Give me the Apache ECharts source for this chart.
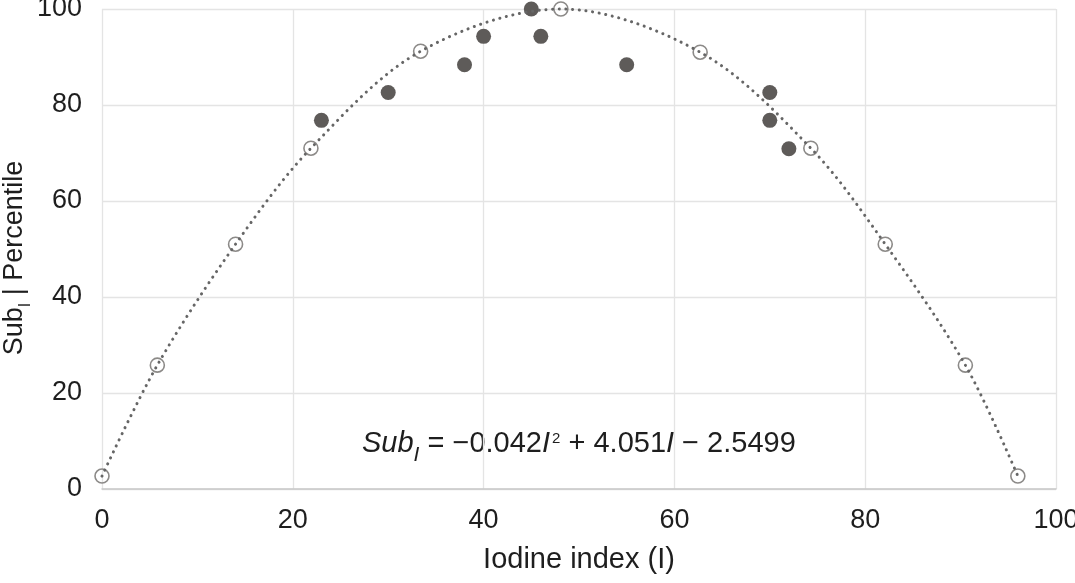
<!DOCTYPE html>
<html>
<head>
<meta charset="utf-8">
<script src="https://cdn.jsdelivr.net/npm/echarts@6/dist/echarts.min.js"></script>
<style>
  html, body { margin: 0; padding: 0; background: #fff; }
  #chart { width: 1075px; height: 583px; }
</style>
</head>
<body>
<div id="chart"></div>
<script>
// points on the fitted curve (open circles)
var fitX = [0, 5.8, 14, 21.9, 33.4, 48.1, 62.7, 74.3, 82.1, 90.5, 96];
var fitY = [2.7, 25.8, 51, 71, 91.2, 100, 91, 71, 51, 25.8, 2.7];
// measured samples (filled circles)
var obsX = [23, 30, 38, 40, 45, 46, 55, 70, 70, 72];
var obsY = [76.8, 82.6, 88.4, 94.3, 100, 94.3, 88.4, 82.6, 76.8, 70.9];

function pairs(xs, ys) {
    return xs.map(function (x, i) { return [x, ys[i]]; });
}

var chartDom = document.getElementById('chart');
var myChart = echarts.init(chartDom);

var font = 'Liberation Sans, Arial, Helvetica, sans-serif';

var option = {
    animation: false,
    grid: { left: 102, right: 19, top: 9, bottom: 94, containLabel: false, outerBoundsMode: 'none' },
    xAxis: {
        type: 'value',
        min: 0, max: 100, interval: 20,
        name: 'Iodine index (I)',
        nameLocation: 'middle',
        nameGap: 56,
        nameMoveOverlap: false,
        nameTextStyle: { fontFamily: font, fontSize: 29, color: '#1e1e1e' },
        axisLine: { show: true, lineStyle: { color: '#c8c8c8', width: 1.5 } },
        axisTick: { show: false },
        axisLabel: { fontFamily: font, fontSize: 27, color: '#1e1e1e', margin: 18 },
        splitLine: { show: true, lineStyle: { color: '#e4e4e4', width: 1.3 } }
    },
    yAxis: {
        type: 'value',
        min: 0, max: 100, interval: 20,
        name: '{m|Sub}{s|I}{m| | Percentile}',
        nameLocation: 'middle',
        nameGap: 68,
        nameMoveOverlap: false,
        nameTextStyle: {
            padding: [0, 18, 0, 0],
            rich: {
                m: { fontFamily: font, fontSize: 27, color: '#1e1e1e', lineHeight: 38 },
                s: { fontFamily: font, fontSize: 16, color: '#1e1e1e', lineHeight: 16, verticalAlign: 'bottom' }
            }
        },
        axisLine: { show: false },
        axisTick: { show: false },
        axisLabel: { fontFamily: font, fontSize: 27, color: '#1e1e1e', margin: 20 },
        splitLine: { show: true, lineStyle: { color: '#e4e4e4', width: 1.3 } }
    },
    graphic: [{
        type: 'text',
        x: 362,
        y: 444,
        style: {
            text: '{i|Sub}{sub|I}{n| = −0.042}{i|I}{sup|2}{n| + 4.051}{i|I}{n| − 2.5499}',
            verticalAlign: 'middle',
            rich: {
                n: { fontFamily: font, fontSize: 29, fill: '#1e1e1e', lineHeight: 44 },
                i: { fontFamily: font, fontSize: 29, fontStyle: 'italic', fill: '#1e1e1e', lineHeight: 44 },
                sub: { fontFamily: font, fontSize: 21, fontStyle: 'italic', fill: '#1e1e1e', lineHeight: 21, verticalAlign: 'bottom' },
                sup: { fontFamily: font, fontSize: 15, fill: '#1e1e1e', lineHeight: 15, verticalAlign: 'top', padding: [9, 0, 0, 2] }
            }
        }
    }],
    series: [
        {
            name: 'observed',
            type: 'scatter',
            data: pairs(obsX, obsY),
            symbol: 'circle',
            symbolSize: 15,
            itemStyle: { color: '#5e5b59', opacity: 1 },
            z: 2
        },
        {
            name: 'fit points',
            type: 'scatter',
            data: pairs(fitX, fitY),
            symbol: 'circle',
            symbolSize: 14,
            itemStyle: { color: 'rgba(255,255,255,0)', borderColor: '#8c8a88', borderWidth: 1.6, opacity: 1 },
            z: 3
        },
        {
            name: 'fit',
            type: 'line',
            data: pairs(fitX, fitY),
            smooth: 0.33,
            showSymbol: false,
            clip: false,
            lineStyle: { color: '#666666', width: 3, type: [0.1, 6.6], cap: 'round' },
            z: 4
        }
    ]
};

myChart.setOption(option);
</script>
</body>
</html>
